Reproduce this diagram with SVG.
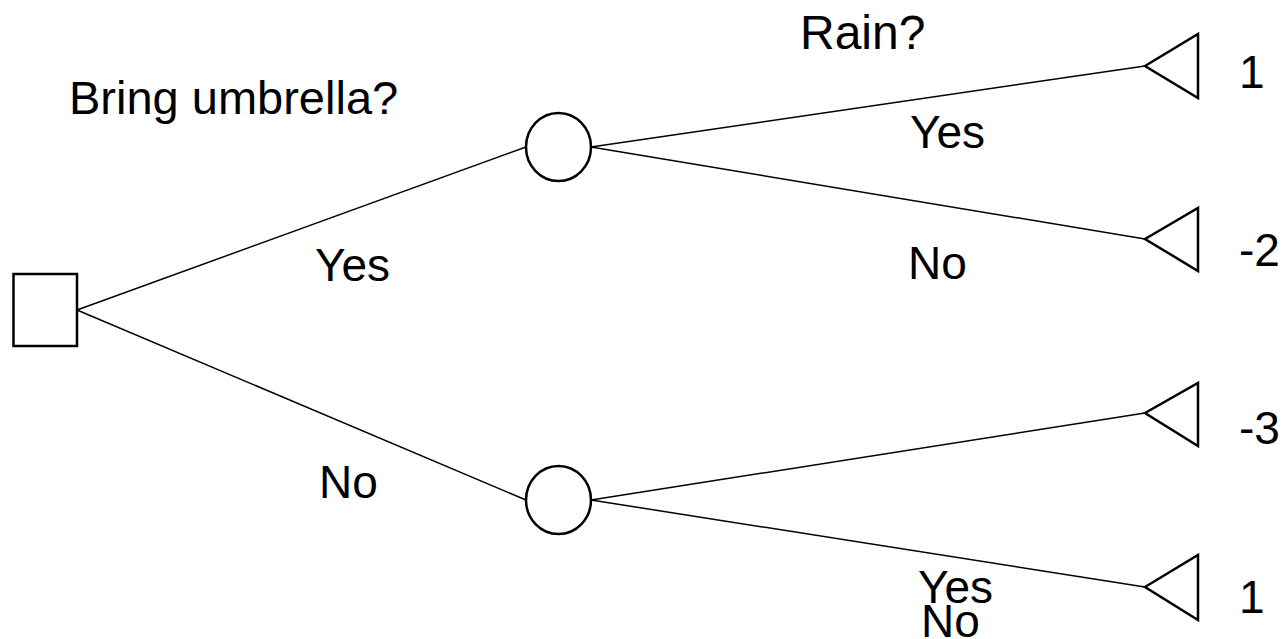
<svg xmlns="http://www.w3.org/2000/svg" width="1283" height="639" viewBox="0 0 1283 639">
<style>
.shape{fill:#fff;stroke:#000;stroke-width:2.5}
.edge{stroke:#000;stroke-width:1.5;fill:none}
text{font-family:"Liberation Sans",Arial,sans-serif;font-size:46px;fill:#000}
</style>
<rect width="1283" height="639" fill="#fff"/>
<g id="connectors">
<line class="edge" x1="77" y1="310" x2="526" y2="147"/>
<line class="edge" x1="77" y1="310" x2="526" y2="500"/>
<line class="edge" x1="591" y1="147" x2="1145" y2="66"/>
<line class="edge" x1="591" y1="147" x2="1145" y2="239"/>
<line class="edge" x1="591" y1="500" x2="1145" y2="413"/>
<line class="edge" x1="591" y1="500" x2="1145" y2="587"/>
</g>
<g id="decision">
<rect class="shape" x="13.5" y="274" width="63.5" height="72"/>
<text x="69" y="114" style="font-size:47px">Bring umbrella?</text>
</g>
<g id="chance1">
<ellipse class="shape" cx="558.5" cy="147" rx="32.5" ry="34"/>
<text x="800" y="49" style="font-size:48px">Rain?</text>
</g>
<g id="chance2">
<ellipse class="shape" cx="558.5" cy="500" rx="32.5" ry="34"/>
</g>
<g id="end1">
<polygon class="shape" points="1145,66 1198,34 1198,98"/>
<text x="1239" y="88">1</text>
</g>
<g id="end2">
<polygon class="shape" points="1145,239 1198,208 1198,271"/>
<text x="1239" y="266">-2</text>
</g>
<g id="end3">
<polygon class="shape" points="1145,413 1198,383 1198,446"/>
<text x="1239" y="444">-3</text>
</g>
<g id="end4">
<polygon class="shape" points="1145,587 1198,555 1198,620"/>
<text x="1239" y="613">1</text>
</g>
<g id="labels">
<text x="315" y="281">Yes</text>
<text x="319" y="498">No</text>
<text x="910" y="148">Yes</text>
<text x="908" y="279">No</text>
<text x="918" y="603">Yes</text>
<text x="921" y="637">No</text>
</g>
</svg>
